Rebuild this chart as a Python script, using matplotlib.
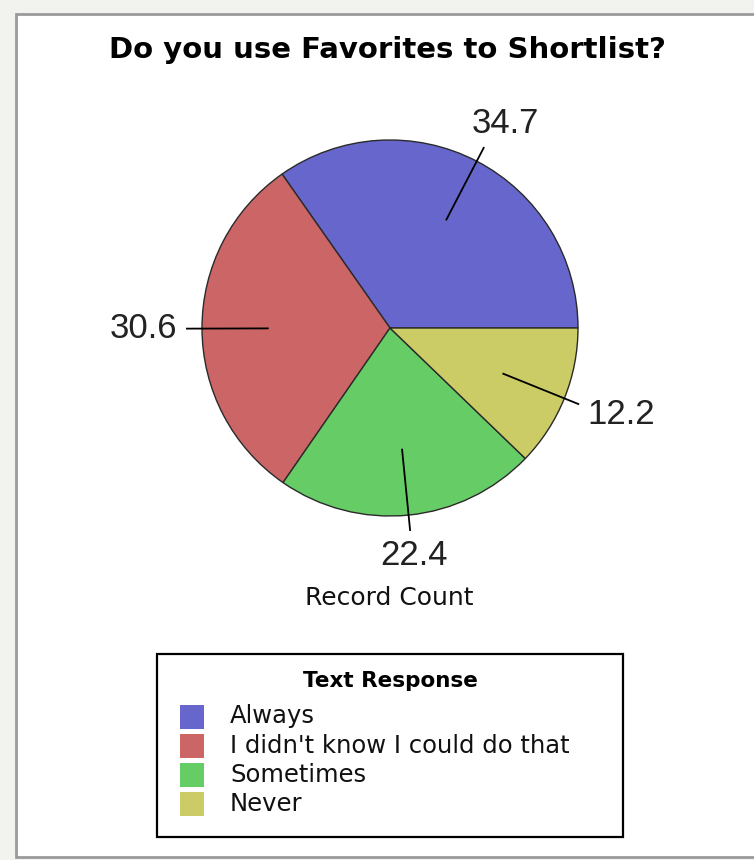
import matplotlib
matplotlib.use("Agg")
import matplotlib.pyplot as plt
import numpy as np
from matplotlib.patches import Rectangle

# Survey answers, as percent of record count
RESPONSES = ["Always", "I didn't know I could do that", "Sometimes", "Never"]
SHARES = [34.7, 30.6, 22.4, 12.2]
COLORS = ["#6666CC", "#CC6666", "#66CC66", "#CCCC66"]

TITLE = "Do you use Favorites to Shortlist?"
AXIS_LABEL = "Record Count"
LEGEND_TITLE = "Text Response"

W, H = 754, 860
PIE_CX, PIE_CY, PIE_R = 390, 328, 188   # pixels, measured from the top


def fx(px):
    return px / W


def fy(py):
    return 1 - py / H


fig = plt.figure(figsize=(W / 100, H / 100), dpi=100, facecolor="#f2f2ef")

# white panel with a grey border, kept behind the pie axes
fig.patches.append(Rectangle((fx(16), fy(857)), fx(760) - fx(16), fy(14) - fy(857),
                             transform=fig.transFigure, facecolor="white",
                             edgecolor="#9a9a9a", linewidth=2.0, zorder=-5))

half = 1.5 * PIE_R
ax = fig.add_axes([fx(PIE_CX - half), fy(PIE_CY + half), 2 * half / W, 2 * half / H])
ax.set_zorder(2)
wedges, _ = ax.pie(SHARES, colors=COLORS, startangle=0, counterclock=True, radius=1,
                   wedgeprops=dict(edgecolor="#2a2a2a", linewidth=1.0))
ax.set_xlim(-1.5, 1.5)
ax.set_ylim(-1.5, 1.5)
ax.axis("off")

renderer = fig.canvas.get_renderer()
for w, v in zip(wedges, SHARES):
    ang = np.deg2rad((w.theta1 + w.theta2) / 2)
    c, s = np.cos(ang), np.sin(ang)
    ax.plot([0.65 * c, 1.08 * c], [0.65 * s, 1.08 * s], color="black", lw=1.3, zorder=3)
    t = ax.annotate(f"{v:.1f}", xy=(1.13 * c, 1.13 * s), xytext=(0, 0),
                    textcoords="offset pixels", ha="center", va="center",
                    fontsize=25, family="Liberation Sans", color="#222222")
    bb = t.get_window_extent(renderer)
    m = max(abs(c), abs(s))
    t.xyann = (0.5 * bb.width * c / m, 0.5 * bb.height * s / m)

fig.text(fx(387), fy(50), TITLE, ha="center", va="center", fontsize=21,
         fontweight="bold", family="DejaVu Sans")
fig.text(fx(389), fy(598), AXIS_LABEL, ha="center", va="center", fontsize=18,
         family="DejaVu Sans", color="#111111")

# legend box
fig.patches.append(Rectangle((fx(157), fy(837)), fx(623) - fx(157), fy(654) - fy(837),
                             transform=fig.transFigure, facecolor="white",
                             edgecolor="black", linewidth=1.6, zorder=1))
fig.text(fx(390), fy(681), LEGEND_TITLE, ha="center", va="center", fontsize=15.5,
         fontweight="bold", family="DejaVu Sans")
for i, (name, col) in enumerate(zip(RESPONSES, COLORS)):
    yc = 716.5 + 29.2 * i
    fig.patches.append(Rectangle((fx(180), fy(yc + 12)), fx(24), 24 / H,
                                 transform=fig.transFigure, facecolor=col,
                                 edgecolor="none", zorder=2))
    fig.text(fx(230), fy(yc), name, ha="left", va="center", fontsize=17.5,
             family="DejaVu Sans", color="#111111")

fig.savefig("out.png", dpi=100, facecolor=fig.get_facecolor())
